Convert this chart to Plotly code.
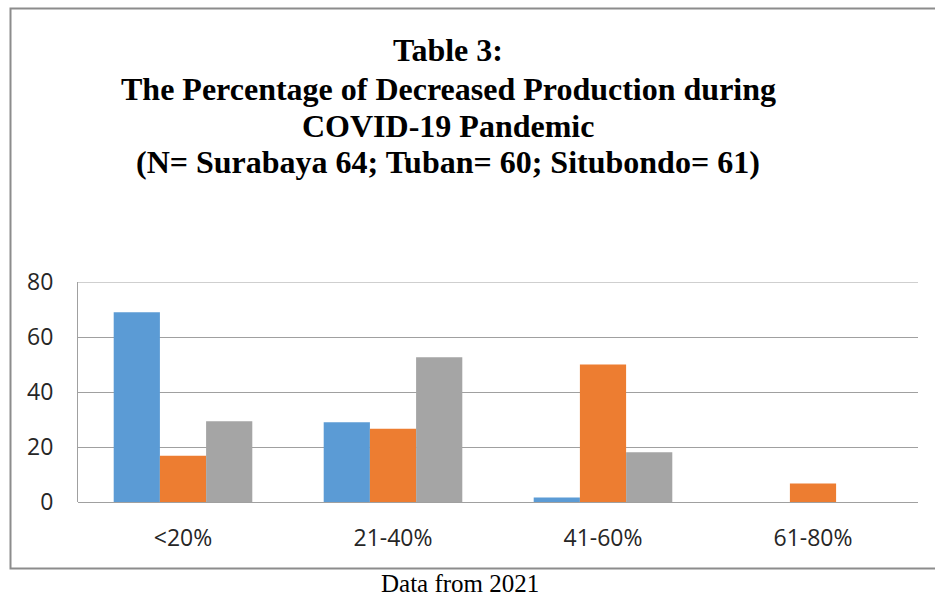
import plotly.graph_objects as go

categories = ["<20%", "21-40%", "41-60%", "61-80%"]
surabaya = [69.0, 29.0, 1.6, 0]
tuban = [16.8, 26.6, 50.0, 6.7]
situbondo = [29.4, 52.6, 18.1, 0]

series_names = ["Surabaya", "Tuban", "Situbondo"]
colors = ["#5B9BD5", "#ED7D31", "#A5A5A5"]
y_ticks = [0, 20, 40, 60, 80]

W, H = 935, 596
L, R, T, B = 78, 918, 282, 502


def px(x):
    return (x - L) / (R - L)


def py(y):
    return (B - y) / (B - T)


fig = go.Figure()
for name, vals, c in zip(series_names, [surabaya, tuban, situbondo], colors):
    fig.add_trace(go.Bar(x=categories, y=vals, name=name, marker=dict(color=c, line=dict(width=0))))

fig.update_layout(
    width=W, height=H,
    margin=dict(l=L, r=W - R, t=T, b=H - B, pad=0),
    paper_bgcolor="white", plot_bgcolor="white",
    barmode="group", bargap=0.34, bargroupgap=0,
    showlegend=False,
    font=dict(family="Open Sans", size=23, color="#262626"),
    xaxis=dict(showgrid=False, showline=False, ticks="", ticklabelstandoff=20),
    yaxis=dict(range=[0, 80], tickvals=y_ticks, showgrid=True, gridcolor="#A0A0A0", gridwidth=1,
               showline=True, linecolor="#A0A0A0", linewidth=1, zeroline=True,
               zerolinecolor="#A0A0A0", zerolinewidth=1, ticks="", ticklabelstandoff=19),
)

# top gridline at the axis maximum
fig.add_shape(type="line", xref="paper", yref="y", x0=0, x1=1, y0=y_ticks[-1], y1=y_ticks[-1],
              line=dict(color="#A0A0A0", width=1))

# outer chart border
fig.add_shape(type="rect", xref="paper", yref="paper",
              x0=px(10.5), x1=px(980), y0=py(568.5), y1=py(8.5),
              line=dict(color="#8C8C8C", width=2), fillcolor="rgba(0,0,0,0)", layer="below")

title_lines = [
    "Table 3:",
    "The Percentage of Decreased Production during",
    "COVID-19 Pandemic",
    "(N= Surabaya 64; Tuban= 60; Situbondo= 61)",
]
title_y = [50, 89, 126, 162]
for txt, yy in zip(title_lines, title_y):
    fig.add_annotation(text="<b>" + txt + "</b>", xref="paper", yref="paper",
                       x=px(448), y=py(yy), showarrow=False, xanchor="center", yanchor="middle",
                       font=dict(family="Liberation Serif", size=32, color="#000000"))

fig.add_annotation(text="Data from 2021", xref="paper", yref="paper",
                   x=px(460), y=py(598), showarrow=False, xanchor="center", yanchor="bottom",
                   borderpad=0,
                   font=dict(family="Liberation Serif", size=25, color="#000000"))

fig.write_html("out.html")
